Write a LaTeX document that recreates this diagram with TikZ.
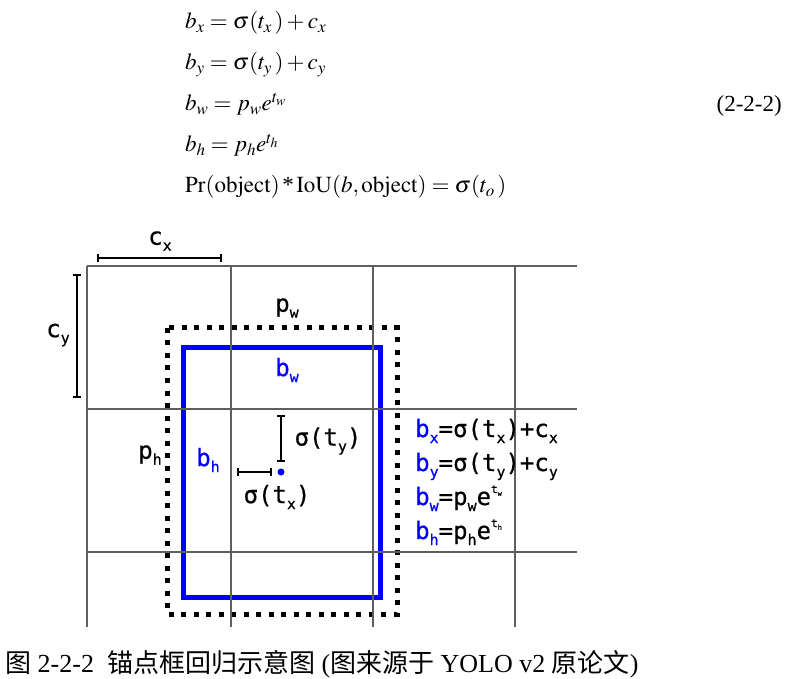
\documentclass[tikz,border=0pt]{standalone}
\usepackage{mathptmx}
\usepackage{fontspec}
\setmainfont{Liberation Serif}
\newfontfamily\figfont[FakeBold=0.5]{DejaVu Sans Mono}
\newfontfamily\cjk{Noto Sans CJK SC}
\usetikzlibrary{arrows.meta}
\definecolor{pblue}{RGB}{0,0,255}
\definecolor{gridgray}{RGB}{95,95,95}
\newcommand\sbx[1]{\raisebox{-0.25em}{\fontsize{15}{15}\selectfont #1}}
\newcommand\tsup[1]{\raisebox{0.5em}{\fontsize{11}{11}\selectfont t\raisebox{-0.25em}{\fontsize{7}{7}\selectfont #1}}}
\begin{document}
\begin{tikzpicture}[x=1pt,y=-1pt,
  gridline/.style={line width=1.3pt, draw=gridgray},
  bar/.style={line width=2.2pt, draw=black, {Bar[width=8pt]}-{Bar[width=8pt]}},
  prior/.style={line width=5pt, draw=black, dash pattern=on 5pt off 7.5pt},
  pred/.style={line width=5pt, draw=pblue},
  lbl/.style={font=\figfont\fontsize{24}{26}\selectfont, inner sep=0pt},
  rq/.style={font=\figfont\fontsize{24}{26}\selectfont, inner sep=0pt, anchor=base west},
  eq/.style={font=\fontsize{23}{27}\selectfont, inner sep=0pt, anchor=base west}]
\useasboundingbox (0,0) rectangle (788,679);
% equations
\node[eq] (e1) at (185,29) {$b_x=\sigma(t_x\,)+c_x$};
\node[eq] (e2) at (185,70) {$b_y=\sigma(t_y\,)+c_y$};
\node[eq] (e3) at (185,111) {$b_w=p_we^{t_w}$};
\node[eq] (e4) at (185,152) {$b_h=p_he^{t_h}$};
\node[eq] (e5) at (185,193) {$\mathrm{Pr}(\mathrm{object})\,\mbox{*}\,\mathrm{IoU}(b,\mathrm{object})=\sigma(t_o\,)$};
\node[eq, anchor=base east] (num) at (782,112) {(2-2-2)};
% prediction and prior boxes
\draw[pred] (183,348) rectangle (380,597);
\draw[prior] (167,328) rectangle (397,614);
% grid
\draw[gridline] (87,266) -- (577,266);
\draw[gridline] (87,409) -- (577,409);
\draw[gridline] (87,552) -- (577,552);
\foreach \x in {87,231,373,515} \draw[gridline] (\x,266) -- (\x,627);
% scale bars
\coordinate (cxa) at (97,258); \coordinate (cxb) at (222,258);
\coordinate (cya) at (77,274); \coordinate (cyb) at (77,398);
\draw[bar] (cxa) -- (cxb);
\draw[bar] (cya) -- (cyb);
\node[lbl] (cx) at (160,241) {c\sbx{x}};
\node[lbl] (cy) at (58,335) {c\sbx{y}};
\node[lbl] (pw) at (287,308) {p\sbx{w}};
\node[lbl, text=pblue] (bw) at (287,370) {b\sbx{w}};
\node[lbl] (ph) at (150,455) {p\sbx{h}};
\node[lbl, text=pblue] (bh) at (208,460) {b\sbx{h}};
% centre offsets
\coordinate (ctr) at (281,472);
\coordinate (tya) at (281,415); \coordinate (tyb) at (281,462);
\coordinate (txa) at (237,472); \coordinate (txb) at (272,472);
\draw[bar] (tya) -- (tyb);
\draw[bar] (txa) -- (txb);
\fill[pblue] (ctr) circle (3.5);
\node[lbl] (sty) at (328,441) {σ(t\sbx{y})};
\node[lbl] (stx) at (277,497) {σ(t\sbx{x})};
% right equations
\node[rq] (r1) at (415,437) {{\color{pblue}b\sbx{x}}=σ(t\sbx{x})+c\sbx{x}};
\node[rq] (r2) at (415,471) {{\color{pblue}b\sbx{y}}=σ(t\sbx{y})+c\sbx{y}};
\node[rq] (r3) at (415,505) {{\color{pblue}b\sbx{w}}=p\sbx{w}e\tsup{w}};
\node[rq] (r4) at (415,539) {{\color{pblue}b\sbx{h}}=p\sbx{h}e\tsup{h}};
% caption
\node[inner sep=0pt, anchor=base west, font=\fontsize{26}{29}\selectfont] (cap) at (5,672)
  {{\cjk 图} 2-2-2\ \ {\cjk 锚点框回归示意图} ({\cjk 图来源于} YOLO v2 {\cjk 原论文})};
\end{tikzpicture}
\end{document}
